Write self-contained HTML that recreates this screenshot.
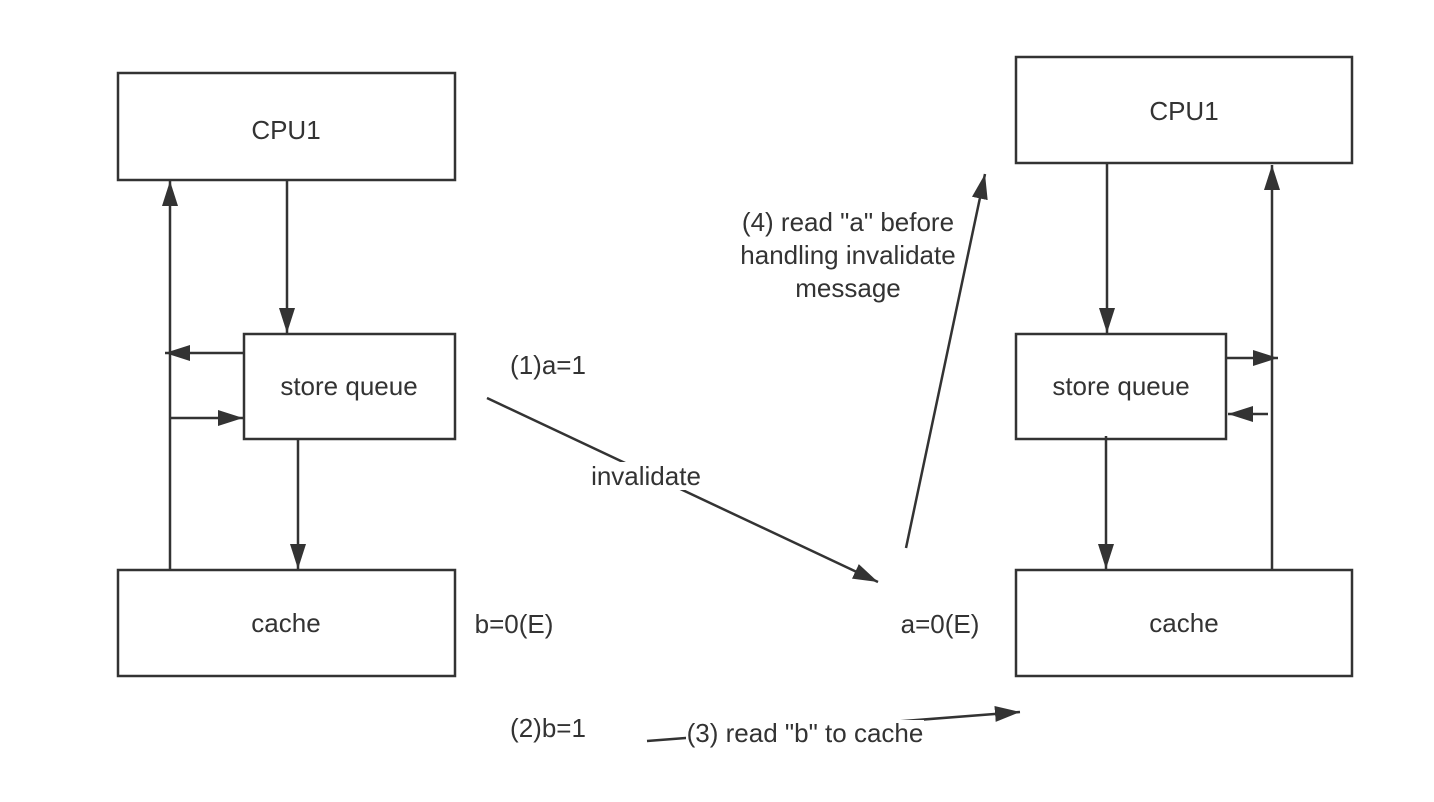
<!DOCTYPE html>
<html><head><meta charset="utf-8"><style>
html,body{margin:0;padding:0;background:#fff;}
svg{display:block;}
text{font-family:"Liberation Sans",Arial,sans-serif;font-size:26px;fill:#333;}
</style></head><body>
<svg width="1434" height="802" viewBox="0 0 1434 802" xmlns="http://www.w3.org/2000/svg">
<defs>
<marker id="a" markerWidth="26" markerHeight="18" refX="25" refY="9" orient="auto" markerUnits="userSpaceOnUse">
<path d="M0,1 L25,9 L0,17 Z" fill="#333"/>
</marker>
</defs>
<g fill="#fff" stroke="#333" stroke-width="2.5">
<rect x="118" y="73" width="337" height="107"/>
<rect x="244" y="334" width="211" height="105"/>
<rect x="118" y="570" width="337" height="106"/>
<rect x="1016" y="57" width="336" height="106"/>
<rect x="1016" y="334" width="210" height="105"/>
<rect x="1016" y="570" width="336" height="106"/>
</g>
<g stroke="#333" stroke-width="2.5" fill="none">
<line x1="287" y1="180" x2="287" y2="333" marker-end="url(#a)"/>
<line x1="170" y1="570" x2="170" y2="181" marker-end="url(#a)"/>
<line x1="244" y1="353" x2="165" y2="353" marker-end="url(#a)"/>
<line x1="170" y1="418" x2="243" y2="418" marker-end="url(#a)"/>
<line x1="298" y1="439" x2="298" y2="569" marker-end="url(#a)"/>
<line x1="1107" y1="163" x2="1107" y2="333" marker-end="url(#a)"/>
<line x1="1272" y1="570" x2="1272" y2="165" marker-end="url(#a)"/>
<line x1="1227" y1="358" x2="1278" y2="358" marker-end="url(#a)"/>
<line x1="1268" y1="414" x2="1228" y2="414" marker-end="url(#a)"/>
<line x1="1106" y1="436" x2="1106" y2="569" marker-end="url(#a)"/>
<line x1="487" y1="398" x2="878" y2="582" marker-end="url(#a)"/>
<line x1="906" y1="548" x2="985" y2="174" marker-end="url(#a)"/>
<line x1="647" y1="741" x2="1020" y2="712" marker-end="url(#a)"/>
</g>
<rect x="590" y="462" width="113" height="28" fill="#fff"/>
<rect x="686" y="720" width="238" height="26" fill="#fff"/>
<g text-anchor="middle">
<text x="286" y="139">CPU1</text>
<text x="349" y="395">store queue</text>
<text x="286" y="632">cache</text>
<text x="1184" y="120">CPU1</text>
<text x="1121" y="395">store queue</text>
<text x="1184" y="632">cache</text>
<text x="548" y="374">(1)a=1</text>
<text x="646" y="485">invalidate</text>
<text x="514" y="633">b=0(E)</text>
<text x="940" y="633">a=0(E)</text>
<text x="548" y="737">(2)b=1</text>
<text x="805" y="742">(3) read "b" to cache</text>
<text x="848" y="231">(4) read "a" before</text>
<text x="848" y="264">handling invalidate</text>
<text x="848" y="297">message</text>
</g>
</svg>
</body></html>
